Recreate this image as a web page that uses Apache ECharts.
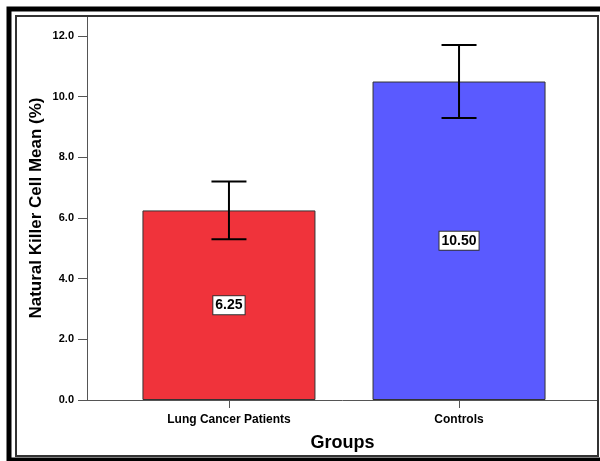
<!DOCTYPE html>
<html>
<head>
<meta charset="utf-8">
<script src="https://cdn.jsdelivr.net/npm/echarts@6/dist/echarts.min.js"></script>
<style>
html,body{margin:0;padding:0;background:#fff;}
#chart{width:600px;height:461px;}
</style>
</head>
<body>
<div id="chart"></div>
<script>
const categories = ['Lung Cancer Patients', 'Controls'];
const means = [6.25, 10.50];
const errLow = [5.3, 9.3];
const errHigh = [7.2, 11.7];
const barColors = ['#F0333B', '#5A5AFF'];
const yTicks = [0, 2, 4, 6, 8, 10, 12];

const FONT = '"Liberation Sans", Arial, sans-serif';
const chart = echarts.init(document.getElementById('chart'), null, {renderer: 'canvas'});

const barData = means.map((v, i) => ({
  value: [i, v],
  itemStyle: {color: barColors[i]}
}));
const errData = means.map((v, i) => [i, errLow[i], errHigh[i]]);

const option = {
  backgroundColor: '#fff',
  animation: false,
  grid: {left: 87, right: 2, top: 16, bottom: 61, containLabel: false},
  xAxis: {
    type: 'value',
    min: -0.617,
    max: 1.604,
    name: 'Groups',
    nameLocation: 'middle',
    nameGap: 34,
    nameTextStyle: {fontFamily: FONT, fontWeight: 'bold', fontSize: 18, color: '#000'},
    axisLine: {show: true, onZero: false, lineStyle: {color: '#555', width: 1}},
    axisTick: {show: true, length: 8, customValues: [0, 1], lineStyle: {color: '#555'}},
    axisLabel: {
      customValues: [0, 1],
      margin: 14,
      fontFamily: FONT, fontWeight: 'bold', fontSize: 12, color: '#000',
      formatter: v => categories[Math.round(v)] || ''
    },
    splitLine: {show: false}
  },
  yAxis: {
    type: 'value',
    min: 0,
    max: 12.66,
    name: 'Natural Killer Cell Mean (%)',
    nameLocation: 'middle',
    nameGap: 42,
    nameMoveOverlap: false,
    nameTextStyle: {fontFamily: FONT, fontWeight: 'bold', fontSize: 17, color: '#000'},
    axisLine: {show: true, onZero: false, lineStyle: {color: '#555', width: 1}},
    axisTick: {show: true, length: 9, customValues: yTicks, lineStyle: {color: '#555'}},
    axisLabel: {
      customValues: yTicks,
      margin: 13,
      fontFamily: FONT, fontWeight: 'bold', fontSize: 11, color: '#000',
      formatter: v => v.toFixed(1)
    },
    splitLine: {show: false}
  },
  series: [
    {
      type: 'bar',
      data: barData,
      barWidth: 173,
      itemStyle: {borderColor: '#333', borderWidth: 1},
      label: {
        show: true,
        position: 'inside',
        formatter: p => p.value[1].toFixed(2),
        fontFamily: FONT, fontWeight: 'bold', fontSize: 14, color: '#000',
        backgroundColor: '#fff',
        borderColor: '#333', borderWidth: 1,
        padding: [3, 2, 1, 2]
      }
    },
    {
      type: 'custom',
      data: errData,
      z: 10,
      renderItem: function (params, api) {
        const x = api.value(0);
        const lo = api.coord([x, api.value(1)]);
        const hi = api.coord([x, api.value(2)]);
        const hw = 17.5;
        const style = {stroke: '#000', lineWidth: 2};
        return {
          type: 'group',
          children: [
            {type: 'line', shape: {x1: lo[0], y1: lo[1], x2: hi[0], y2: hi[1]}, style: style},
            {type: 'line', shape: {x1: lo[0] - hw, y1: lo[1], x2: lo[0] + hw, y2: lo[1]}, style: style},
            {type: 'line', shape: {x1: hi[0] - hw, y1: hi[1], x2: hi[0] + hw, y2: hi[1]}, style: style}
          ]
        };
      }
    }
  ],
  graphic: [
    {type: 'rect', shape: {x: 9, y: 9, width: 600, height: 451}, style: {fill: null, stroke: '#000', lineWidth: 5}, z: 100},
    {type: 'rect', shape: {x: 16, y: 16, width: 582, height: 440}, style: {fill: null, stroke: '#333', lineWidth: 2}, z: 100}
  ]
};
chart.setOption(option);
</script>
</body>
</html>
